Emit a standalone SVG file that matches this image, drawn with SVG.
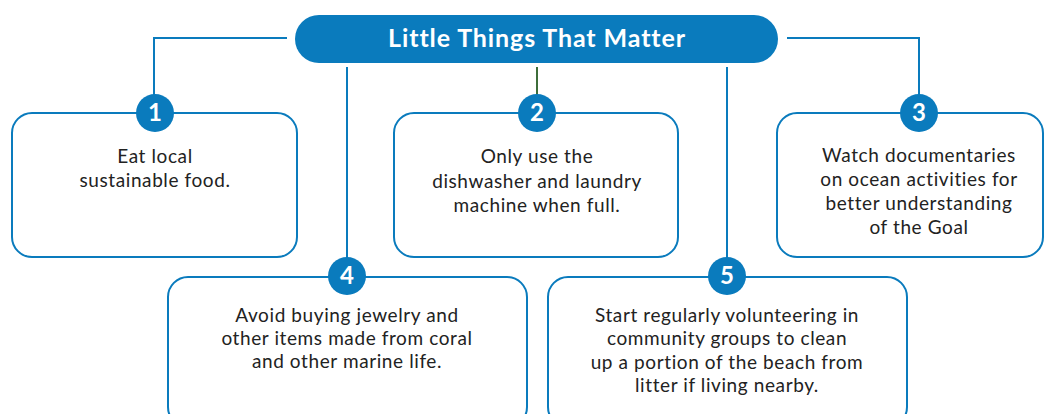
<svg xmlns="http://www.w3.org/2000/svg" width="1049" height="414" viewBox="0 0 1049 414">
<style>
.box{fill:#fff;stroke:#0a7bbd;stroke-width:2}
.badge{fill:#0a7bbd}
.num{font-family:Lato,"Noto Sans",sans-serif;font-weight:700;font-size:24px;fill:#fff;text-anchor:middle}
.txt{font-family:Lato,"Noto Sans",sans-serif;font-size:19px;letter-spacing:0.6px;fill:#222;text-anchor:middle}
.title{font-family:Lato,"Noto Sans",sans-serif;font-weight:700;font-size:25px;letter-spacing:0.9px;fill:#fff;text-anchor:middle}
.conn{fill:none;stroke:#0a7bbd;stroke-width:2}
</style>
<rect width="1049" height="414" fill="#fff"/>
<g id="connectors">
<path class="conn" d="M287 38 H154 V95"/>
<path d="M537 67 V95" fill="none" stroke="#3d6e3a" stroke-width="2"/>
<path class="conn" d="M787 38 H919 V95"/>
<path class="conn" d="M347 67 V258"/>
<path class="conn" d="M727 67 V258"/>
</g>
<g id="title">
<rect x="295" y="15" width="483" height="48" rx="24" fill="#0a7bbd"/>
<text class="title" x="537" y="47">Little Things That Matter</text>
</g>
<g id="node1">
<rect class="box" x="12" y="113" width="285" height="144" rx="20"/>
<circle class="badge" cx="155" cy="113" r="19"/>
<text class="num" x="155" y="121">1</text>
<text class="txt" x="155" y="163">Eat local</text>
<text class="txt" x="155" y="187">sustainable food.</text>
</g>
<g id="node2">
<rect class="box" x="394" y="113" width="284" height="144" rx="20"/>
<circle class="badge" cx="537" cy="113" r="19"/>
<text class="num" x="537" y="121">2</text>
<text class="txt" x="537" y="163">Only use the</text>
<text class="txt" x="537" y="188">dishwasher and laundry</text>
<text class="txt" x="537" y="212">machine when full.</text>
</g>
<g id="node3">
<rect class="box" x="777" y="113" width="266" height="144" rx="20"/>
<circle class="badge" cx="919" cy="113" r="19"/>
<text class="num" x="919" y="121">3</text>
<text class="txt" x="919" y="162">Watch documentaries</text>
<text class="txt" x="919" y="186">on ocean activities for</text>
<text class="txt" x="919" y="210">better understanding</text>
<text class="txt" x="919" y="234">of the Goal</text>
</g>
<g id="node4">
<rect class="box" x="168" y="277" width="359" height="150" rx="20"/>
<circle class="badge" cx="347" cy="276" r="19"/>
<text class="num" x="347" y="284">4</text>
<text class="txt" x="347" y="322">Avoid buying jewelry and</text>
<text class="txt" x="347" y="345">other items made from coral</text>
<text class="txt" x="347" y="368">and other marine life.</text>
</g>
<g id="node5">
<rect class="box" x="548" y="277" width="359" height="150" rx="20"/>
<circle class="badge" cx="727" cy="276" r="19"/>
<text class="num" x="727" y="284">5</text>
<text class="txt" x="727" y="322">Start regularly volunteering in</text>
<text class="txt" x="727" y="345">community groups to clean</text>
<text class="txt" x="727" y="369">up a portion of the beach from</text>
<text class="txt" x="727" y="392">litter if living nearby.</text>
</g>
</svg>
